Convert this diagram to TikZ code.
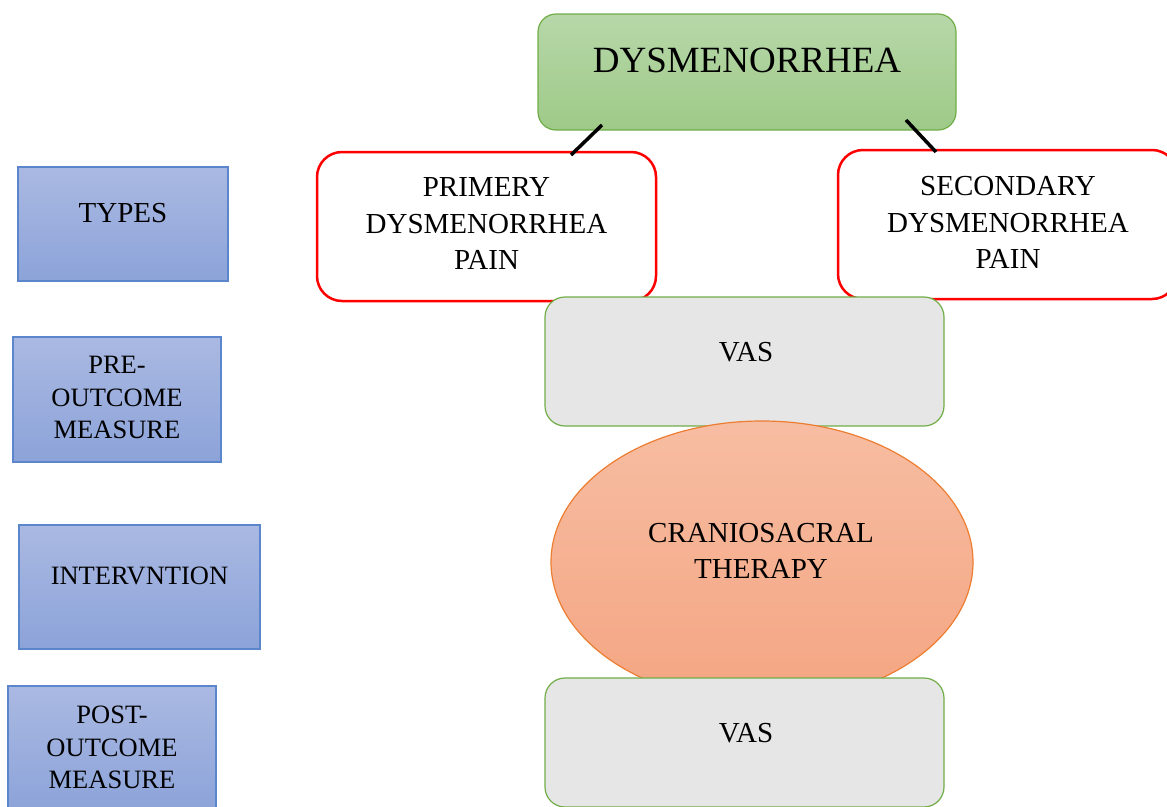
\documentclass[tikz,border=0pt]{standalone}
\usepackage{fontspec}
\setmainfont{Liberation Serif}
\usetikzlibrary{shapes.geometric}
\definecolor{gborder}{HTML}{70AD47}
\definecolor{gtop}{HTML}{B7D7A9}
\definecolor{gbot}{HTML}{9ECA88}
\definecolor{btop}{HTML}{AAB9E2}
\definecolor{bbot}{HTML}{8CA3D9}
\definecolor{bborder}{HTML}{5B86CC}
\definecolor{otop}{HTML}{F7BDA2}
\definecolor{obot}{HTML}{F4A582}
\definecolor{oborder}{HTML}{ED7D31}
\definecolor{vasfill}{HTML}{E7E6E6}
\tikzset{
  titlebox/.style={draw=gborder, line width=1.2pt, top color=gtop, bottom color=gbot, rounded corners=18pt, inner sep=0pt},
  typebox/.style={draw=red, line width=2.5pt, fill=white, rounded corners=25pt, inner sep=0pt},
  sidebox/.style={draw=bborder, line width=1.5pt, top color=btop, bottom color=bbot, inner sep=0pt},
  vasbox/.style={draw=gborder, line width=1.2pt, fill=vasfill, rounded corners=20pt, inner sep=0pt},
  csbox/.style={ellipse, draw=oborder, line width=1.2pt, top color=otop, bottom color=obot, inner sep=0pt},
  txt/.style={inner sep=0pt, align=center, text=black},
  bigtxt/.style={txt, font=\fontsize{29}{36.5}\selectfont},
  sidetxt/.style={txt, font=\fontsize{26.5}{32.5}\selectfont},
  conn/.style={line width=3.5pt, black}
}
\begin{document}
\begin{tikzpicture}[x=1pt,y=-1pt]
\useasboundingbox (0,0) rectangle (1167,806);
\clip (0,0) rectangle (1167,806);
% side labels
\node[sidebox, minimum width=210pt, minimum height=114pt] (types) at (123,224) {};
\node[sidetxt, font=\fontsize{29}{32.5}\selectfont] (typest) at (123,213) {TYPES};
\node[sidebox, minimum width=208pt, minimum height=125pt] (pre) at (117,399.5) {};
\node[sidetxt] (pret) at (117,397.5) {PRE-\\OUTCOME\\MEASURE};
\node[sidebox, minimum width=241pt, minimum height=124pt] (interv) at (139.5,587) {};
\node[sidetxt] (intervt) at (139.5,576) {INTERVNTION};
\node[sidebox, minimum width=208pt, minimum height=125pt] (post) at (112,748.5) {};
\node[sidetxt] (postt) at (112,747.5) {POST-\\OUTCOME\\MEASURE};
% title
\node[titlebox, minimum width=418pt, minimum height=116pt] (title) at (747,72) {};
\node[txt, font=\fontsize{37}{44}\selectfont] (titlet) at (747,60) {DYSMENORRHEA};
% types
\node[typebox, minimum width=339pt, minimum height=149pt] (prim) at (486.5,226.5) {};
\node[bigtxt] (primt) at (486.5,224) {PRIMERY\\DYSMENORRHEA\\PAIN};
\node[typebox, minimum width=339pt, minimum height=149pt] (sec) at (1007.5,224.5) {};
\node[bigtxt] (sect) at (1008,222.5) {SECONDARY\\DYSMENORRHEA\\PAIN};
% connectors
\coordinate (ca) at (602,125);
\coordinate (cb) at (571,155);
\coordinate (cc) at (906,120);
\coordinate (cd) at (936,152);
\draw[conn] (ca) -- (cb);
\draw[conn] (cc) -- (cd);
% VAS 1
\node[vasbox, minimum width=399pt, minimum height=129pt] (vas1) at (744.5,361.5) {};
\node[bigtxt] (vas1t) at (746,352) {VAS};
% ellipse
\node[csbox, minimum width=422pt, minimum height=282pt] (cst) at (762,562) {};
\node[bigtxt] (cstt) at (761,551) {CRANIOSACRAL\\THERAPY};
% VAS 2
\node[vasbox, minimum width=399pt, minimum height=129pt] (vas2) at (744.5,742.5) {};
\node[bigtxt] (vas2t) at (746,733) {VAS};
\end{tikzpicture}
\end{document}
